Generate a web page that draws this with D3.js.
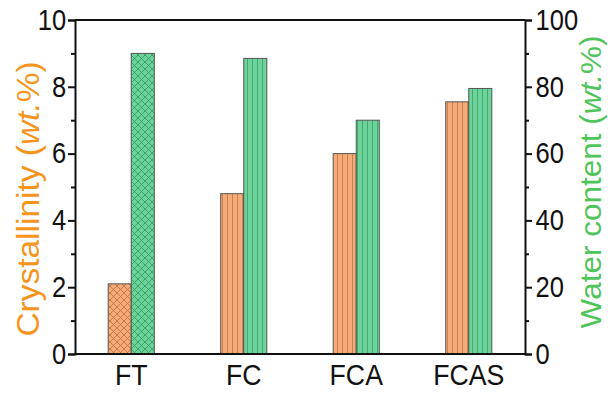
<!DOCTYPE html>
<html>
<head>
<meta charset="utf-8">
<script src="https://cdn.jsdelivr.net/npm/d3@7"></script>
<style>
  body { margin: 0; background: #fff; }
  text { font-family: "Liberation Sans", Arial, sans-serif; }
</style>
</head>
<body>
<svg width="610" height="394"></svg>
<script>
// data
const samples = ['FT', 'FC', 'FCA', 'FCAS'];
const crystallinity = [2.1, 4.8, 6.0, 7.55];   // wt.%, left axis
const waterContent = [90, 88.5, 70, 79.5];     // wt.%, right axis
const leftTicks = [0, 2, 4, 6, 8, 10];
const rightTicks = [0, 20, 40, 60, 80, 100];

const svg = d3.select('svg');
const margin = { top: 20, right: 85, bottom: 40, left: 75 };
const width = 610 - margin.left - margin.right;
const height = 394 - margin.top - margin.bottom;

const orange = '#f6ab79', orangeLine = '#b5703f';
const green = '#6dd39a', greenLine = '#2e9a5e';

// patterns
const defs = svg.append('defs');
function crossPattern(id, fill, line) {
  const p = defs.append('pattern').attr('id', id).attr('patternUnits', 'userSpaceOnUse')
    .attr('width', 7).attr('height', 7);
  p.append('rect').attr('width', 7).attr('height', 7).attr('fill', fill);
  p.append('path').attr('d', 'M0,0 L7,7 M7,0 L0,7').attr('stroke', line).attr('stroke-width', 0.8);
}
function vertPattern(id, fill, line) {
  const p = defs.append('pattern').attr('id', id).attr('patternUnits', 'userSpaceOnUse')
    .attr('width', 5).attr('height', 5);
  p.append('rect').attr('width', 5).attr('height', 5).attr('fill', fill);
  p.append('path').attr('d', 'M2.5,0 L2.5,5').attr('stroke', line).attr('stroke-width', 0.7);
}
crossPattern('crossO', orange, orangeLine);
crossPattern('crossG', green, greenLine);
vertPattern('vertO', orange, orangeLine);
vertPattern('vertG', green, greenLine);

const g = svg.append('g').attr('transform', `translate(${margin.left},${margin.top})`);

const x = d3.scaleBand().domain(samples).range([0, width]).paddingInner(0.59).paddingOuter(0.295);
const yL = d3.scaleLinear().domain([0, 10]).range([height, 0]);
const yR = d3.scaleLinear().domain([0, 100]).range([height, 0]);

const bw = x.bandwidth() / 2;

g.selectAll('.barL').data(samples).enter().append('rect')
  .attr('x', d => x(d))
  .attr('y', (d, i) => yL(crystallinity[i]))
  .attr('width', bw)
  .attr('height', (d, i) => height - yL(crystallinity[i]))
  .attr('fill', (d, i) => i === 0 ? 'url(#crossO)' : 'url(#vertO)')
  .attr('stroke', '#555').attr('stroke-width', 1);

g.selectAll('.barR').data(samples).enter().append('rect')
  .attr('x', d => x(d) + bw)
  .attr('y', (d, i) => yR(waterContent[i]))
  .attr('width', bw)
  .attr('height', (d, i) => height - yR(waterContent[i]))
  .attr('fill', (d, i) => i === 0 ? 'url(#crossG)' : 'url(#vertG)')
  .attr('stroke', '#555').attr('stroke-width', 1);

// frame lines
g.append('line').attr('x1', 0).attr('x2', width).attr('y1', 0).attr('y2', 0)
  .attr('stroke', '#111').attr('stroke-width', 2);
g.append('line').attr('x1', 0).attr('x2', width).attr('y1', height).attr('y2', height)
  .attr('stroke', '#111').attr('stroke-width', 2);

// left axis
const axL = g.append('g').call(d3.axisLeft(yL).tickValues(leftTicks).tickSize(7).tickPadding(3));
axL.append('g').call(d3.axisLeft(yL).tickValues(d3.range(1, 10, 2)).tickSize(4).tickFormat(''));
// right axis
const axR = g.append('g').attr('transform', `translate(${width},0)`)
  .call(d3.axisRight(yR).tickValues(rightTicks).tickSize(7).tickPadding(5));
axR.append('g').call(d3.axisRight(yR).tickValues(d3.range(10, 100, 20)).tickSize(4).tickFormat(''));

[axL, axR].forEach(a => {
  a.selectAll('.domain').attr('stroke', '#111').attr('stroke-width', 2);
  a.selectAll('line').attr('stroke', '#111').attr('stroke-width', 2);
  a.selectAll('text').attr('font-size', 29).attr('fill', '#111')
    .attr('transform', 'scale(0.88,1)')
    .style('font-family', '"Liberation Sans", Arial, sans-serif');
  a.selectAll('.domain').filter((d, i, n) => n[i].parentNode !== a.node()).remove();
});

// category labels
g.selectAll('.cat').data(samples).enter().append('text')
  .attr('transform', d => `translate(${x(d) + x.bandwidth() / 2},${height + 31}) scale(0.92,1)`)
  .attr('text-anchor', 'middle')
  .attr('font-size', 29).attr('fill', '#111')
  .text(d => d);

// axis titles
const tL = svg.append('text')
  .attr('transform', 'translate(39,199) rotate(-90) scale(1.08,1)')
  .attr('text-anchor', 'middle').attr('font-size', 31).attr('fill', '#f7941d');
tL.append('tspan').text('Crystallinity (');
tL.append('tspan').attr('font-style', 'italic').text('wt.');
tL.append('tspan').text('%)');

const tR = svg.append('text')
  .attr('transform', 'translate(601,182) rotate(-90) scale(1.05,1)')
  .attr('text-anchor', 'middle').attr('font-size', 30).attr('fill', '#4fc45a');
tR.append('tspan').text('Water content (');
tR.append('tspan').attr('font-style', 'italic').text('wt.');
tR.append('tspan').text('%)');
</script>
</body>
</html>
